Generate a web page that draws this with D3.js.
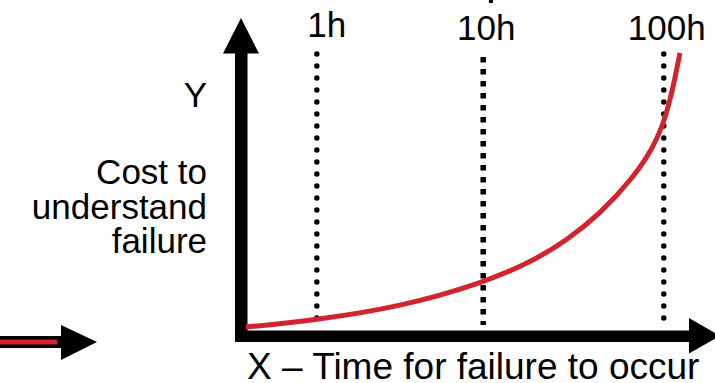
<!DOCTYPE html>
<html>
<head>
<meta charset="utf-8">
<script src="https://cdn.jsdelivr.net/npm/d3@7"></script>
<style>
    body { margin: 0; background: #fff; }
    svg { display: block; font-family: "Liberation Sans", Arial, sans-serif; }
</style>
</head>
<body>
<div id="chart"></div>
<script>

// guide lines (x position on a 0-100 "time" axis) and their labels
var guideLabels = ["1h", "10h", "100h"];
var guideValues = [16.0, 51.1, 89.2];
var guideStyles = ["round", "square", "round"];

// red cost curve (x: time 0-100, y: cost 0-100)
var curveX = [1.0, 16.0, 33.5, 51.1, 61.6, 68.8, 75.7, 82.7, 86.9, 89.0, 90.1, 91.1, 92.6];
var curveY = [1.3, 3.7, 8.0, 16.0, 23.3, 30.3, 39.0, 51.0, 61.0, 68.7, 74.7, 80.7, 92.7];

var yLabelLines = ["Cost to", "understand", "failure"];
var xLabel = "X \u2013 Time for failure to occur";

var red = "#d2232f";

costChart = function(_parentElement){
    this.parentElement = _parentElement;
    this.initVis();
};

costChart.prototype.initVis = function() {
    var vis = this;

    vis.width = 715;
    vis.height = 383;

    vis.svg = d3.select("#" + vis.parentElement).append("svg")
        .attr("width", vis.width)
        .attr("height", vis.height);

    vis.x = d3.scaleLinear().domain([0, 100]).range([241, 715]);
    vis.y = d3.scaleLinear().domain([0, 100]).range([331, 31]);

    vis.updateVis();
};

costChart.prototype.updateVis = function() {
    var vis = this;

    // dotted guides
    vis.svg.selectAll("line.guide")
        .data(guideValues)
        .enter().append("line")
        .attr("class", "guide")
        .attr("x1", function(d) { return vis.x(d); })
        .attr("x2", function(d) { return vis.x(d); })
        .attr("y1", function(d, i) { return guideStyles[i] == "round" ? 54 : 57; })
        .attr("y2", function(d, i) { return guideStyles[i] == "round" ? 330 - i * 4 : 325; })
        .attr("stroke", "#000")
        .attr("stroke-width", 5.5)
        .attr("stroke-linecap", function(d, i) { return guideStyles[i] == "round" ? "round" : "butt"; })
        .attr("stroke-dasharray", function(d, i) { return guideStyles[i] == "round" ? "0 12" : "5.5 6.5"; });

    // cut-off mark at the top edge
    vis.svg.append("rect")
        .attr("x", vis.x(52.3)).attr("y", -1)
        .attr("width", 4).attr("height", 4)
        .attr("fill", "#000");

    vis.svg.selectAll("text.guide")
        .data(guideLabels)
        .enter().append("text")
        .attr("class", "guide")
        .attr("x", function(d, i) { return vis.x(guideValues[i]) + (i == 0 ? 10 : 3); })
        .attr("y", function(d, i) { return i == 0 ? 37 : 40; })
        .attr("text-anchor", "middle")
        .style("font-size", "35px")
        .text(function(d) { return d; });

    // axes: thick shafts with arrowheads
    vis.svg.append("rect")
        .attr("x", 235).attr("y", 50)
        .attr("width", 12.5).attr("height", 292)
        .attr("fill", "#000");
    vis.svg.append("path")
        .attr("d", "M223,53.5L241,18L259,53.5Z")
        .attr("fill", "#000");

    vis.svg.append("rect")
        .attr("x", 235).attr("y", 330.5)
        .attr("width", 458).attr("height", 11.5)
        .attr("fill", "#000");
    vis.svg.append("path")
        .attr("d", "M689,318L720,336L689,353.5Z")
        .attr("fill", "#000");

    // cost curve
    var line = d3.line()
        .x(function(d) { return vis.x(d[0]); })
        .y(function(d) { return vis.y(d[1]); })
        .curve(d3.curveBasis);

    vis.svg.append("path")
        .datum(d3.zip(curveX, curveY))
        .attr("d", line)
        .attr("fill", "none")
        .attr("stroke", red)
        .attr("stroke-width", 5);

    // axis texts
    vis.svg.append("text")
        .attr("x", 207).attr("y", 107)
        .attr("text-anchor", "end")
        .style("font-size", "35px")
        .text("Y");

    vis.svg.selectAll("text.ylab")
        .data(yLabelLines)
        .enter().append("text")
        .attr("class", "ylab")
        .attr("x", 207)
        .attr("y", function(d, i) { return 184 + i * 34.5; })
        .attr("text-anchor", "end")
        .style("font-size", "35px")
        .text(function(d) { return d; });

    vis.svg.append("text")
        .attr("x", 247).attr("y", 379)
        .style("font-size", "37px")
        .text(xLabel);

    // small arrow at bottom left (black casing, red core)
    vis.svg.append("rect")
        .attr("x", -2).attr("y", 336)
        .attr("width", 65).attr("height", 12)
        .attr("fill", "#000");
    vis.svg.append("rect")
        .attr("x", -2).attr("y", 339.5)
        .attr("width", 59).attr("height", 5)
        .attr("fill", red);
    vis.svg.append("path")
        .attr("d", "M61,325L97,342L61,360Z")
        .attr("fill", "#000");
};

new costChart("chart");
</script>
</body>
</html>
